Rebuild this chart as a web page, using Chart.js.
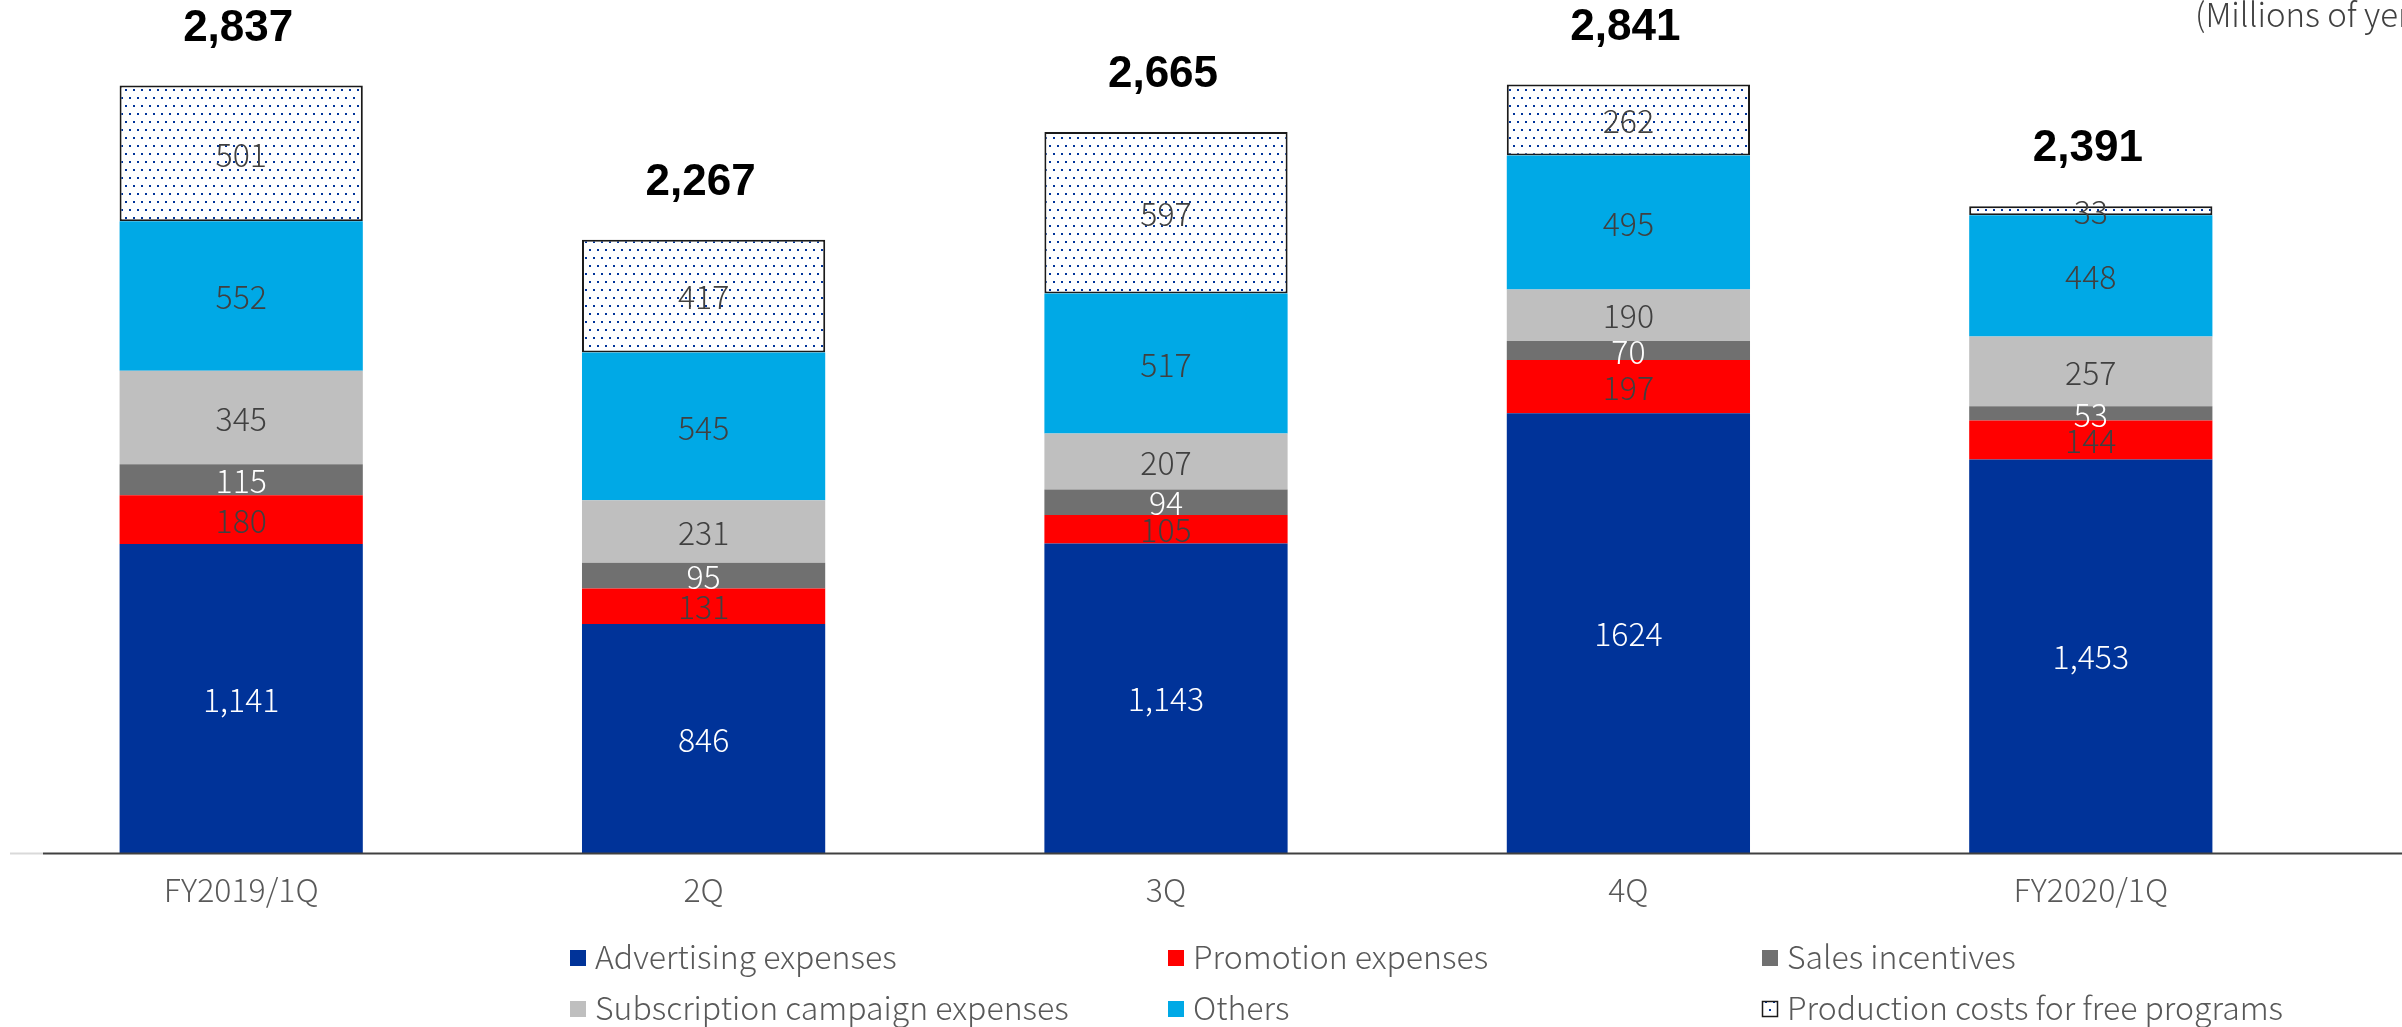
<!DOCTYPE html>
<html>
<head>
<meta charset="utf-8">
<script src="https://cdn.jsdelivr.net/npm/chart.js@4/dist/chart.umd.min.js"></script>
<style>
  html, body { margin: 0; padding: 0; background: #ffffff; }
  #wrap { width: 2402px; height: 1027px; }
</style>
</head>
<body>
<div id="wrap"><canvas id="chart" width="2402" height="1027"></canvas></div>
<script>
// Quarterly breakdown of advertising & promotion costs (millions of yen)
const categories = ['FY2019/1Q', '2Q', '3Q', '4Q', 'FY2020/1Q'];
const advertising = [1141, 846, 1143, 1624, 1453];
const advertisingLabels = ['1,141', '846', '1,143', '1624', '1,453'];
const promotion = [180, 131, 105, 197, 144];
const salesIncentives = [115, 95, 94, 70, 53];
const subscription = [345, 231, 207, 190, 257];
const others = [552, 545, 517, 495, 448];
const production = [501, 417, 597, 262, 33];
const totals = [2837, 2267, 2665, 2841, 2391];
const totalLabels = ['2,837', '2,267', '2,665', '2,841', '2,391'];

const FONT = "'Noto Sans CJK JP', 'Noto Sans', sans-serif";
const TEXT_GREY = '#595959';
const DARK = '#404040';
const DOT_BLUE = '#003399';

// sparse dotted fill used for the production-cost segments
function makeDotPattern() {
  const c = document.createElement('canvas');
  c.width = 8; c.height = 16;
  const g = c.getContext('2d');
  g.fillStyle = '#ffffff';
  g.fillRect(0, 0, 8, 16);
  g.fillStyle = DOT_BLUE;
  g.fillRect(1, 1, 2, 2);
  g.fillRect(5, 9, 2, 2);
  return g.createPattern(c, 'repeat');
}
const dotPattern = makeDotPattern();

const series = [
  { label: 'Advertising expenses', data: advertising, color: '#003399', text: '#ffffff', labels: advertisingLabels },
  { label: 'Promotion expenses', data: promotion, color: '#ff0000', text: DARK },
  { label: 'Sales incentives', data: salesIncentives, color: '#707070', text: '#ffffff' },
  { label: 'Subscription campaign expenses', data: subscription, color: '#bfbfbf', text: DARK },
  { label: 'Others', data: others, color: '#00a9e6', text: DARK },
  { label: 'Production costs for free programs', data: production, color: dotPattern, text: DARK, pattern: true }
];

const datasets = series.map(s => ({
  label: s.label,
  data: s.data,
  backgroundColor: s.color,
  borderColor: s.pattern ? '#1a1a1a' : s.color,
  borderWidth: s.pattern ? 2 : 0,
  borderSkipped: false,
  barPercentage: 0.526,
  categoryPercentage: 1.0
}));

function fmt(v) { return v.toLocaleString('en-US'); }

const annotations = {
  id: 'annotations',
  afterDatasetsDraw(chart) {
    const ctx = chart.ctx;
    ctx.save();
    // segment values
    ctx.textAlign = 'center';
    ctx.textBaseline = 'middle';
    ctx.font = `300 32px ${FONT}`;
    series.forEach((s, i) => {
      const meta = chart.getDatasetMeta(i);
      meta.data.forEach((bar, j) => {
        const p = bar.getProps(['x', 'y', 'base'], true);
        const txt = s.labels ? s.labels[j] : fmt(s.data[j]);
        ctx.fillStyle = s.text;
        ctx.fillText(txt, p.x, (p.y + p.base) / 2 + 1);
      });
    });
    // totals above each stack
    const topMeta = chart.getDatasetMeta(series.length - 1);
    ctx.font = `bold 44px 'Liberation Sans', Arial, sans-serif`;
    ctx.fillStyle = '#000000';
    topMeta.data.forEach((bar, j) => {
      const p = bar.getProps(['x', 'y'], true);
      ctx.fillText(totalLabels[j], p.x - 3, p.y - 57);
    });
    ctx.restore();
  },
  afterDraw(chart) {
    const ctx = chart.ctx;
    const area = chart.chartArea;
    ctx.save();
    // category axis line
    const yb = Math.round(area.bottom) + 0.5;
    ctx.lineWidth = 2;
    ctx.strokeStyle = '#d9d9d9';
    ctx.beginPath(); ctx.moveTo(10, yb); ctx.lineTo(43, yb); ctx.stroke();
    ctx.strokeStyle = '#404040';
    ctx.beginPath(); ctx.moveTo(43, yb); ctx.lineTo(chart.width, yb); ctx.stroke();

    // unit note
    ctx.font = `300 33px ${FONT}`;
    ctx.fillStyle = DARK;
    ctx.textAlign = 'left';
    ctx.textBaseline = 'alphabetic';
    ctx.fillText('(Millions of yen)', 2195, 27);

    // legend, three columns by two rows
    const cols = [570, 1168, 1762];
    const rows = [969, 1020];
    ctx.font = `300 32px ${FONT}`;
    series.forEach((s, i) => {
      const x = cols[i % 3];
      const base = rows[Math.floor(i / 3)];
      const sq = 16;
      const top = base - 19;
      if (s.pattern) {
        ctx.fillStyle = dotPattern;
        ctx.fillRect(x, top, sq, sq);
        ctx.lineWidth = 1.5;
        ctx.strokeStyle = '#1a1a1a';
        ctx.strokeRect(x + 0.5, top + 0.5, sq - 1, sq - 1);
      } else {
        ctx.fillStyle = s.color;
        ctx.fillRect(x, top, sq, sq);
      }
      ctx.fillStyle = TEXT_GREY;
      ctx.fillText(s.label, x + 25, base);
    });
    ctx.restore();
  }
};

new Chart(document.getElementById('chart'), {
  type: 'bar',
  data: { labels: categories, datasets },
  options: {
    responsive: false,
    animation: false,
    devicePixelRatio: 1,
    layout: { padding: { left: 10, right: 80, top: 0, bottom: 0 } },
    plugins: { legend: { display: false }, tooltip: { enabled: false } },
    scales: {
      x: {
        stacked: true,
        grid: { display: false, drawTicks: false },
        border: { display: false },
        ticks: { color: TEXT_GREY, font: { family: FONT, size: 32, weight: '300' }, padding: 18, maxRotation: 0 },
        afterFit(scale) { scale.height = 174; }
      },
      y: {
        stacked: true,
        display: false,
        min: 0,
        max: 3150
      }
    }
  },
  plugins: [annotations]
});
</script>
</body>
</html>
